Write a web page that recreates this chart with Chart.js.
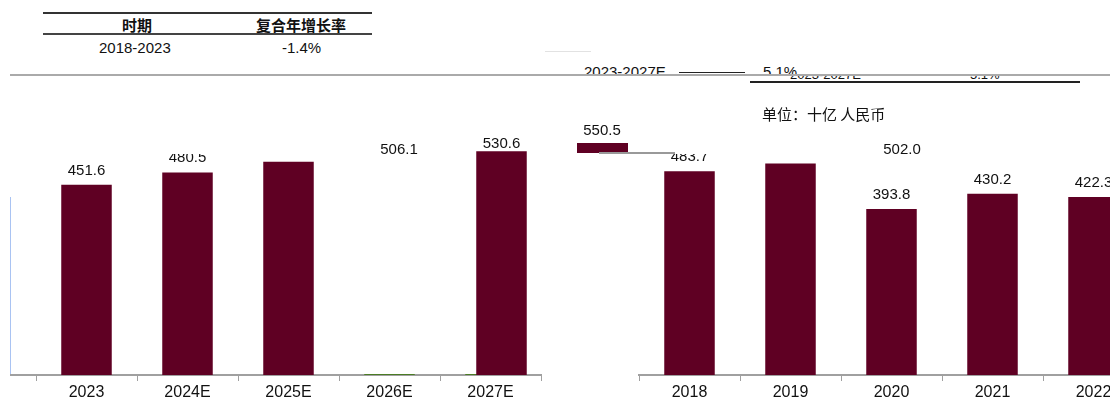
<!DOCTYPE html>
<html>
<head>
   <meta charset="utf-8">
   <script src="https://cdn.jsdelivr.net/npm/chart.js@4.4.0/dist/chart.umd.min.js"></script>
   <title>市场规模</title>
   <style>
      body { margin: 0; width: 1110px; height: 401px; overflow: hidden; background: #fff; position: relative;
             font-family: "Liberation Sans", Arial, sans-serif; color: #111; }
      .t { position: absolute; font-size: 15px; line-height: 15px; white-space: nowrap; }
      .cjk { font-family: "Noto Sans CJK SC", sans-serif; }
      .line { position: absolute; }
      .clip { position: absolute; overflow: hidden; }
      .cover { position: absolute; background: #fff; z-index: 5; }
      .top { z-index: 10; }
      canvas { position: absolute; }
   </style>
</head>
<body>
   <!-- CAGR table -->
   <div class="line" style="left:43px; top:12px; width:329px; height:2px; background:#333"></div>
   <div class="t cjk" style="left:122px; top:17px; font-weight:bold">时期</div>
   <div class="t cjk" style="left:256px; top:17px; font-weight:bold">复合年增长率</div>
   <div class="line" style="left:43px; top:33px; width:329px; height:2px; background:#444"></div>
   <div class="t" style="left:99px; top:40px">2018-2023</div>
   <div class="t" style="left:282px; top:40px">-1.4%</div>

   <div class="line" style="left:545px; top:51px; width:46px; height:1px; background:#e2e2e2"></div>
   <div class="clip" style="left:570px; top:60px; width:260px; height:14px">
      <div class="t" style="left:14px; top:4px">2023-2027E</div>
      <div class="t" style="left:193px; top:4px">5.1%</div>
   </div>
   <div class="line" style="left:679px; top:72px; width:66px; height:1px; background:#222"></div>
   <div class="line" style="left:10px; top:74px; width:1100px; height:2px; background:#aaa"></div>
   <div class="clip" style="left:780px; top:76px; width:240px; height:3px">
      <div class="t" style="left:10px; top:-9px; font-size:13px">2023-2027E</div>
      <div class="t" style="left:190px; top:-9px; font-size:13px">5.1%</div>
   </div>
   <div class="line" style="left:750px; top:81px; width:330px; height:2px; background:#222"></div>

   <div class="t cjk top" style="left:762px; top:106px">单位：十亿 人民币</div>

   <canvas id="left" width="560" height="281" style="left:0; top:120px"></canvas>
   <canvas id="right" width="600" height="281" style="left:560px; top:120px"></canvas>
   <canvas id="frag" width="51" height="10" style="left:577px; top:143px"></canvas>

   <div class="line" style="left:10px; top:374px; width:26px; height:2px; background:#a0a0a0"></div>
   <div class="line" style="left:10px; top:197px; width:1px; height:177px; background:#a9c3f2"></div>
   <div class="line top" style="left:599px; top:152px; width:76px; height:2px; background:#999"></div>

   <div class="cover" style="left:140px; top:120px; width:200px; height:34px"></div>
   <div class="cover" style="left:655px; top:120px; width:185px; height:34px"></div>

   <div id="strays"></div>

<script>
   const leftYears = ['2023', '2024E', '2025E', '2026E', '2027E'];
   const leftValues = [451.6, 480.5, 506.1, null, null];
   const leftShifted = [null, null, null, null, 530.6];
   const leftStub = [null, null, null, 2.5, 2.5];

   const rightYears = ['2018', '2019', '2020', '2021', '2022'];
   const rightValues = [483.7, 502.0, 393.8, 430.2, 422.3];

   const fragmentValue = [550.5];
   const strayLabels = ['506.1', '502.0', '550.5'];

   const BAR = '#5f0023';
   const AXIS = '#a0a0a0';
   const FONT = '"Liberation Sans", Arial, sans-serif';
   const YMAX = 605;

   // moves a dataset sideways by ds.shiftX pixels
   const shiftPlugin = {
      id: 'shift',
      beforeDatasetDraw(chart, args) {
         const ds = chart.data.datasets[args.index];
         if (ds.shiftX) { chart.ctx.save(); chart.ctx.translate(ds.shiftX, 0); }
      },
      afterDatasetDraw(chart, args) {
         if (chart.data.datasets[args.index].shiftX) chart.ctx.restore();
      }
   };

   const labelPlugin = {
      id: 'barLabels',
      afterDatasetsDraw(chart) {
         const ctx = chart.ctx;
         chart.data.datasets.forEach((ds, i) => {
            if (!ds.showLabels) return;
            chart.getDatasetMeta(i).data.forEach((bar, j) => {
               const v = ds.data[j];
               if (v == null) return;
               ctx.save();
               ctx.font = '15px ' + FONT;
               ctx.fillStyle = '#111';
               ctx.textAlign = 'center';
               ctx.textBaseline = 'alphabetic';
               ctx.fillText(v.toFixed(1), bar.x + (ds.shiftX || 0), bar.y - (ds.labelGap == null ? 10 : ds.labelGap));
               ctx.restore();
            });
         });
      }
   };

   function barSet(data, extra) {
      return Object.assign({
         data: data, backgroundColor: BAR, grouped: false,
         barPercentage: 0.5, categoryPercentage: 1, showLabels: true
      }, extra || {});
   }

   function opts(padLeft, padRight) {
      return {
         responsive: false,
         animation: false,
         layout: { padding: { left: padLeft, right: padRight, top: 0, bottom: 0 } },
         plugins: { legend: { display: false }, tooltip: { enabled: false } },
         scales: {
            x: {
               offset: true,
               grid: { offset: true, drawOnChartArea: false, drawTicks: true, tickLength: 6, color: AXIS },
               border: { display: true, color: AXIS, width: 2 },
               ticks: { color: '#111', font: { size: 16, family: FONT }, padding: 2, maxRotation: 0 },
               afterFit: s => { s.height = 26; }
            },
            y: { display: false, min: 0, max: YMAX }
         }
      };
   }

   new Chart(document.getElementById('left'), {
      type: 'bar',
      data: {
         labels: leftYears,
         datasets: [
            barSet(leftValues),
            barSet(leftShifted, { shiftX: 11, labelGap: 3 }),
            barSet(leftStub, { backgroundColor: '#4b7d25', showLabels: false })
         ]
      },
      options: opts(36, 19),
      plugins: [shiftPlugin, labelPlugin]
   });

   new Chart(document.getElementById('right'), {
      type: 'bar',
      data: { labels: rightYears, datasets: [barSet(rightValues)] },
      options: opts(79, 16),
      plugins: [labelPlugin]
   });

   // stray fragment: the top sliver of a bar
   const pxPerUnit = 255 / YMAX;
   new Chart(document.getElementById('frag'), {
      type: 'bar',
      data: { labels: [''], datasets: [{ data: fragmentValue, backgroundColor: BAR, barPercentage: 1, categoryPercentage: 1 }] },
      options: {
         responsive: false, animation: false,
         layout: { padding: 0 },
         plugins: { legend: { display: false }, tooltip: { enabled: false } },
         scales: {
            x: { display: false },
            y: { display: false, min: fragmentValue[0] - 10 / pxPerUnit, max: fragmentValue[0] }
         }
      }
   });

   // loose value labels floating over the picture
   const strayPos = [[399, 141], [902, 141], [602, 122]];
   const holder = document.getElementById('strays');
   strayLabels.forEach((s, i) => {
      const d = document.createElement('div');
      d.className = 't top';
      d.textContent = s;
      d.style.left = (strayPos[i][0] - 19) + 'px';
      d.style.top = strayPos[i][1] + 'px';
      d.style.width = '38px';
      d.style.textAlign = 'center';
      holder.appendChild(d);
   });
</script>
</body>
</html>
